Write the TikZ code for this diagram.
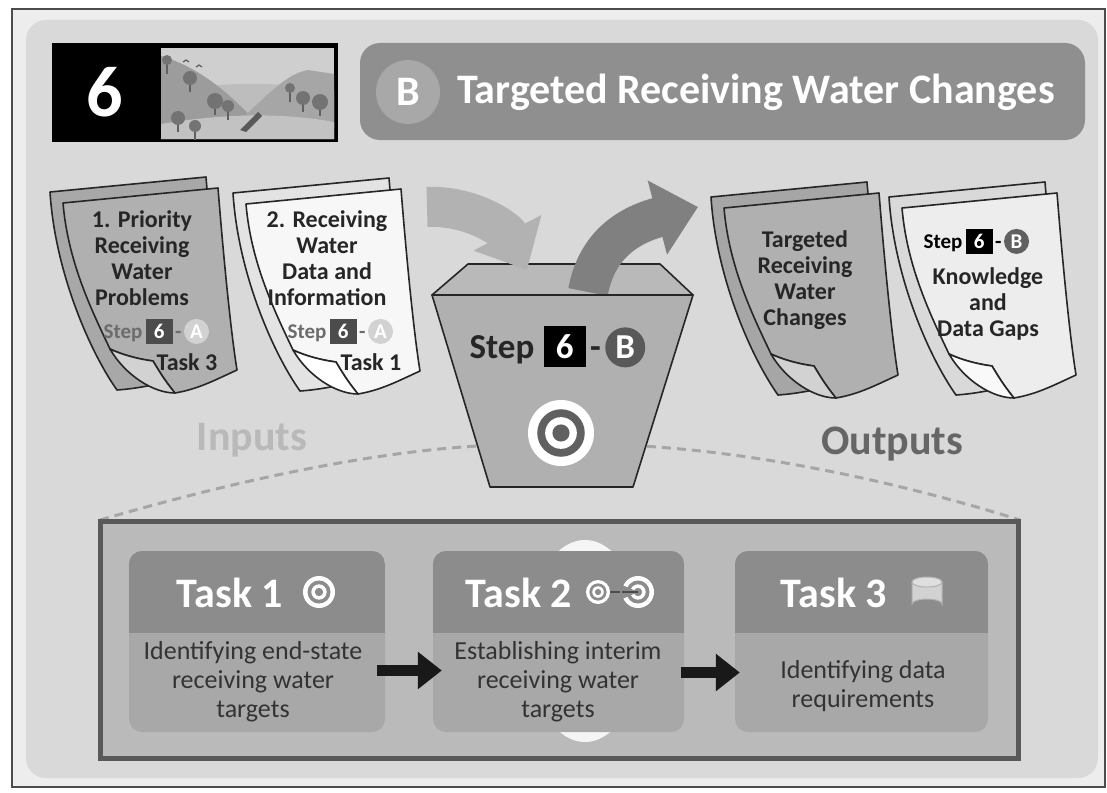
\documentclass[tikz,border=0pt]{standalone}
\usepackage{fontspec}
\setmainfont{Carlito}
\usetikzlibrary{positioning,arrows.meta}

\definecolor{outerbg}{gray}{0.93}
\definecolor{panelbg}{gray}{0.85}
\definecolor{bargray}{gray}{0.56}
\definecolor{discgray}{gray}{0.66}
\definecolor{hdrgray}{gray}{0.55}
\definecolor{bodygray}{gray}{0.66}
\definecolor{framegray}{gray}{0.73}

% one stack of paper: back sheet, front sheet and its curled corner
\newcommand\docstack[4]{%
  \begin{scope}[shift={#1}]
    \draw[docline,fill=#2] (0,0) -- (156,-15) .. controls (162,60) and (172,130) .. (180,170)
      .. controls (150,180) and (110,195) .. (67,198) .. controls (40,160) and (5,80) .. cycle;
    \begin{scope}[shift={(13,11)}]
      \draw[docline,fill=#3] (0,0) -- (155,-15) .. controls (161,60) and (168,130) .. (174,167)
        .. controls (150,178) and (135,186) .. (112,190) .. controls (102,178) and (96,168) .. (90,158)
        .. controls (75,156) and (60,152) .. (47,146) .. controls (30,110) and (5,60) .. cycle;
      \draw[docline,fill=#4] (47,146) .. controls (60,152) and (75,156) .. (90,158)
        .. controls (96,168) and (102,178) .. (112,190) .. controls (90,190) and (62,172) .. cycle;
    \end{scope}
  \end{scope}}

% small "Step 6 - X" label
\newcommand\stepbadge[6]{%
  \node[badgeword,text=#3] (#1s) at #2 {Step};
  \node[badgenum,fill=#4,base right=3pt of #1s] (#1n) {6};
  \node[badgeword,text=#3,base right=2pt of #1n] (#1d) {-};
  \node[badgeletter,fill=#5,base right=2pt of #1d] (#1l) {#6};}

% ringed target
\newcommand\target[3]{%
  \fill[white] #1 circle (#2);
  \fill[#3] #1 circle (0.72*#2);
  \fill[white] #1 circle (0.48*#2);
  \fill[#3] #1 circle (0.26*#2);}

\tikzset{
  docline/.style={draw=black!85,line width=1.6pt,line join=round},
  doctext/.style={align=center,inner sep=0,font=\bfseries\fontsize{24}{26}\selectfont,text=black!85},
  badgeword/.style={inner sep=0,font=\bfseries\fontsize{21}{21}\selectfont},
  badgenum/.style={inner sep=0,minimum width=27pt,minimum height=25pt,text=white,font=\bfseries\fontsize{21}{21}\selectfont},
  badgeletter/.style={circle,inner sep=0,minimum size=25pt,text=white,font=\bfseries\fontsize{21}{21}\selectfont},
  bigword/.style={inner sep=0,font=\bfseries\fontsize{42}{42}\selectfont},
  tasktitle/.style={inner sep=0,text=white,font=\bfseries\fontsize{42}{42}\selectfont},
  tasktext/.style={align=center,inner sep=0,text=black!80,font=\fontsize{26}{29}\selectfont},
  taskbox/.style={rounded corners=13pt},
  taskarrow/.style={line width=11pt,black!90,-{Triangle[length=24pt,width=36pt]}},
  flowarrow/.style={line width=40pt,-{Triangle[length=42pt,width=74pt]}},
}

\begin{document}
\begin{tikzpicture}[x=1pt,y=-1pt]
\useasboundingbox (0,0) rectangle (1107,792);
\fill[white] (0,0) rectangle (1107,792);
\draw[black!70,line width=1.2pt,fill=outerbg] (12,9) rectangle (1105,787);
\fill[panelbg,rounded corners=20pt] (26,20) rectangle (1098,778);

% step number and scene
\fill[black] (52,43) rectangle (338,142);
\node[inner sep=0,text=white,font=\bfseries\fontsize{72}{72}\selectfont] (num) at (105,92) {6};
\fill[gray!38] (161,48) rectangle (334,139);
\fill[gray!52] (161,95) .. controls (220,80) and (270,82) .. (334,90) -- (334,139) -- (161,139) -- cycle;
\fill[gray!78] (161,56) .. controls (195,66) and (225,88) .. (258,124) -- (161,139) -- cycle;
\fill[gray!70] (240,120) .. controls (265,98) and (285,74) .. (308,70) -- (334,74) -- (334,128) -- cycle;
\fill[gray!48] (161,124) .. controls (220,114) and (280,112) .. (334,122) -- (334,139) -- (161,139) -- cycle;
\foreach \tx/\ty/\tr in {167/60/5, 190/78/7, 215/101/8, 228/106/6, 178/118/7, 195/126/6, 303/98/7, 320/102/8, 290/88/5}{
  \draw[gray!75!black,line width=1.5pt] (\tx,\ty) -- (\tx,\ty+14);
  \fill[gray!90!black] (\tx,\ty) circle (\tr);}
\fill[gray!70!black] (240,130) -- (258,112) -- (262,116) -- (246,132) -- cycle;
\draw[gray!70!black,line width=1.2pt] (183,62) -- (186,60) -- (189,62) (196,67) -- (199,65) -- (202,67);

% title bar
\fill[bargray,rounded corners=20pt] (360,43) rectangle (1085,140);
\node[circle,inner sep=0,minimum size=64pt,fill=discgray,text=white,font=\bfseries\fontsize{42}{42}\selectfont] (blet) at (408,92) {B};
\node[anchor=base west,inner sep=0,text=white,font=\bfseries\fontsize{42}{42}\selectfont] (title) at (457,103) {Targeted Receiving Water Changes};

% inputs
\docstack{(50,192)}{gray!68}{gray!62}{gray!35}
\node[doctext] (in1) at (142,258) {1. Priority\\Receiving\\Water\\Problems};
\stepbadge{ba}{(123,333)}{gray!85!black}{gray!60!black}{gray!35}{A}
\node[doctext,anchor=base] (in1t) at (187,370) {Task 3};

\docstack{(233,193)}{gray!22}{gray!6}{white}
\node[doctext] (in2) at (327,258) {2. Receiving\\Water\\Data and\\Information};
\stepbadge{bb}{(307,333)}{gray!85!black}{gray!60!black}{gray!35}{A}
\node[doctext,anchor=base] (in2t) at (371,370) {Task 1};

\node[bigword,text=gray!55] (inputs) at (252,440) {Inputs};

% outputs
\docstack{(711,197)}{gray!70}{gray!62}{gray!35}
\node[doctext] (out1) at (805,280) {Targeted\\Receiving\\Water\\Changes};

\docstack{(889,197)}{gray!30}{gray!14}{gray!5}
\stepbadge{bc}{(943,243)}{black}{black}{gray!75!black}{B}
\node[doctext] (out2) at (988,304) {Knowledge\\and\\Data Gaps};

\node[bigword,text=gray!80!black] (outputs) at (892,444) {Outputs};

% dashed guide from the step down to its tasks
\draw[gray!70,line width=3pt,dash pattern=on 9pt off 6pt] (100,520) .. controls (300,462) and (450,440) .. (560,445)
  .. controls (690,440) and (860,470) .. (1020,520);

% the step container
\draw[black!85,line width=1.6pt,fill=gray!55,line join=round] (468,264) -- (660,264) -- (693,295) -- (432,295) -- cycle;
\draw[flowarrow,gray!60] (427,207) .. controls (472,205) and (506,230) .. (527,270);
\draw[flowarrow,gray] (588,292) .. controls (596,248) and (625,226) .. (698,207);
\draw[black!85,line width=1.6pt,fill=gray!62,line join=round] (432,295) -- (693,295) -- (633,487) -- (490,487) -- cycle;
\node[inner sep=0,font=\bfseries\fontsize{35}{35}\selectfont,text=black!85] (bs) at (502,350) {Step};
\node[inner sep=0,minimum width=42pt,minimum height=41pt,fill=black,text=white,font=\bfseries\fontsize{35}{35}\selectfont,base right=9pt of bs] (bn) {6};
\node[inner sep=0,font=\bfseries\fontsize{35}{35}\selectfont,text=black!85,base right=4pt of bn] (bd) {-};
\node[circle,inner sep=0,minimum size=40pt,fill=gray!70!black,text=white,font=\bfseries\fontsize{35}{35}\selectfont,base right=4pt of bd] (bl) {B};
\target{(561,433)}{33}{gray!75!black}

% task panel
\draw[gray!70!black,line width=5pt,fill=framegray] (100,521) rectangle (1018,758);
\fill[gray!8] (585,641) ellipse [x radius=58,y radius=101];
\foreach \n/\xa/\xb in {1/129/385, 2/433/684, 3/735/988}{
  \fill[bodygray,taskbox] (\xa,551) rectangle (\xb,732);
  \begin{scope}
    \clip[taskbox] (\xa,551) rectangle (\xb,732);
    \fill[hdrgray] (\xa,551) rectangle (\xb,633);
  \end{scope}
  \node[inner sep=0,minimum width=\xb-\xa,minimum height=181pt] (t\n) at ({(\xa+\xb)/2},641.5) {};}
\node[tasktitle] (t1h) at (230,593) {Task 1};
\node[tasktitle] (t2h) at (519,593) {Task 2};
\node[tasktitle] (t3h) at (834,593) {Task 3};
\target{(319,592)}{16}{hdrgray}
\draw[black!70,line width=2pt] (598,592) -- (634,592);
\target{(598,592)}{12}{hdrgray}
\target{(638,592)}{16}{hdrgray}
\fill[hdrgray] (638,592) -- (620,584) -- (620,600) -- cycle;
\draw[black!70,line width=2pt] (622,592) -- (638,592);
\draw[gray!60,fill=gray!35,line width=1pt] (912,582) -- (912,604) arc[start angle=180,end angle=360,x radius=15,y radius=5] -- (942,582);
\draw[gray!60,fill=gray!25,line width=1pt] (927,582) ellipse [x radius=15,y radius=5];
\node[tasktext] (t1b) at (253,682) {Identifying end-state\\receiving water\\targets};
\node[tasktext] (t2b) at (558,682) {Establishing interim\\receiving water\\targets};
\node[tasktext] (t3b) at (863,686) {Identifying data\\requirements};
\draw[taskarrow] ([xshift=-8pt,yshift=-29pt]t1.east) -- ([xshift=9pt,yshift=-29pt]t2.west);
\draw[taskarrow] ([xshift=-3pt,yshift=-31pt]t2.east) -- ([xshift=5pt,yshift=-31pt]t3.west);
\end{tikzpicture}
\end{document}
